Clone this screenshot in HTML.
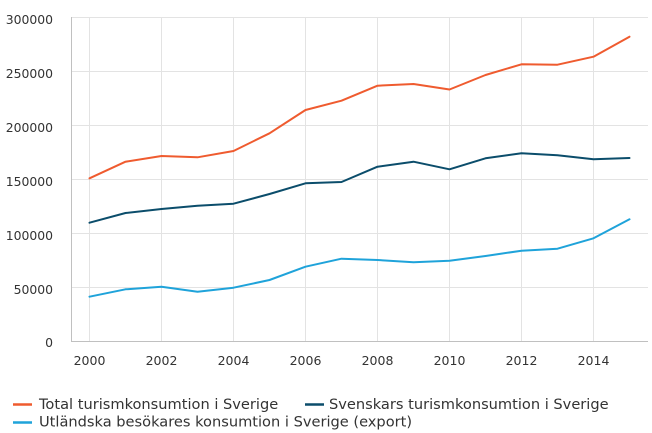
<!DOCTYPE html>
<html><head><meta charset="utf-8"><style>
html,body{margin:0;padding:0;background:#fff;}
svg{display:block;}
text{font-family:"DejaVu Sans","Liberation Sans",sans-serif;fill:#333;}
</style></head><body>
<svg width="652" height="433" viewBox="0 0 652 433" xmlns="http://www.w3.org/2000/svg">
<g stroke="#e3e3e3" stroke-width="1" fill="none">
<line x1="71" y1="17.5" x2="648" y2="17.5"/>
<line x1="71" y1="71.5" x2="648" y2="71.5"/>
<line x1="71" y1="125.5" x2="648" y2="125.5"/>
<line x1="71" y1="179.5" x2="648" y2="179.5"/>
<line x1="71" y1="233.5" x2="648" y2="233.5"/>
<line x1="71" y1="287.5" x2="648" y2="287.5"/>
<line x1="89.5" y1="17" x2="89.5" y2="341"/>
<line x1="161.5" y1="17" x2="161.5" y2="341"/>
<line x1="233.5" y1="17" x2="233.5" y2="341"/>
<line x1="305.5" y1="17" x2="305.5" y2="341"/>
<line x1="377.5" y1="17" x2="377.5" y2="341"/>
<line x1="449.5" y1="17" x2="449.5" y2="341"/>
<line x1="521.5" y1="17" x2="521.5" y2="341"/>
<line x1="593.5" y1="17" x2="593.5" y2="341"/>
</g>
<g stroke="#c0c0c0" stroke-width="1" fill="none">
<line x1="71.5" y1="17" x2="71.5" y2="342"/>
<line x1="71" y1="341.5" x2="648" y2="341.5"/>
</g>
<g font-size="12.4" text-anchor="end">
<text x="53" y="24">300000</text>
<text x="53" y="78">250000</text>
<text x="53" y="132">200000</text>
<text x="53" y="186">150000</text>
<text x="53" y="240">100000</text>
<text x="53" y="294">50000</text>
<text x="53" y="347">0</text>
</g>
<g font-size="12.5" text-anchor="middle">
<text x="89.5" y="365">2000</text>
<text x="161.5" y="365">2002</text>
<text x="233.5" y="365">2004</text>
<text x="305.5" y="365">2006</text>
<text x="377.5" y="365">2008</text>
<text x="449.5" y="365">2010</text>
<text x="521.5" y="365">2012</text>
<text x="593.5" y="365">2014</text>
</g>
<g fill="none" stroke-width="2" stroke-linejoin="round" stroke-linecap="round">
<polyline stroke="#1fa3da" points="89.5,296.7 125.5,289.3 161.5,286.7 197.5,291.7 233.5,287.7 269.5,280 305.5,266.7 341.5,258.7 377.5,260 413.5,262.3 449.5,260.7 485.5,256 521.5,250.7 557.5,248.7 593.5,238.3 629.5,219.3"/>
<polyline stroke="#0b4d6b" points="89.5,222.7 125.5,213 161.5,209 197.5,205.7 233.5,203.7 269.5,194 305.5,183.3 341.5,182 377.5,166.7 413.5,161.7 449.5,169.3 485.5,158.3 521.5,153.3 557.5,155.3 593.5,159.3 629.5,158"/>
<polyline stroke="#ef5b2f" points="89.5,178.3 125.5,161.7 161.5,156 197.5,157.3 233.5,151 269.5,133.3 305.5,110 341.5,100.7 377.5,85.7 413.5,84 449.5,89.5 485.5,75 521.5,64.3 557.5,64.7 593.5,56.7 629.5,36.7"/>
</g>
<g stroke-width="2.5">
<line x1="13" y1="404.5" x2="32" y2="404.5" stroke="#ef5b2f"/>
<line x1="305" y1="404.5" x2="324" y2="404.5" stroke="#0b4d6b"/>
<line x1="13" y1="422.5" x2="32" y2="422.5" stroke="#1fa3da"/>
</g>
<g font-size="14.6">
<text x="39" y="409">Total turismkonsumtion i Sverige</text>
<text x="329" y="409">Svenskars turismkonsumtion i Sverige</text>
<text x="39" y="426.5">Utländska besökares konsumtion i Sverige (export)</text>
</g>
</svg>
</body></html>
